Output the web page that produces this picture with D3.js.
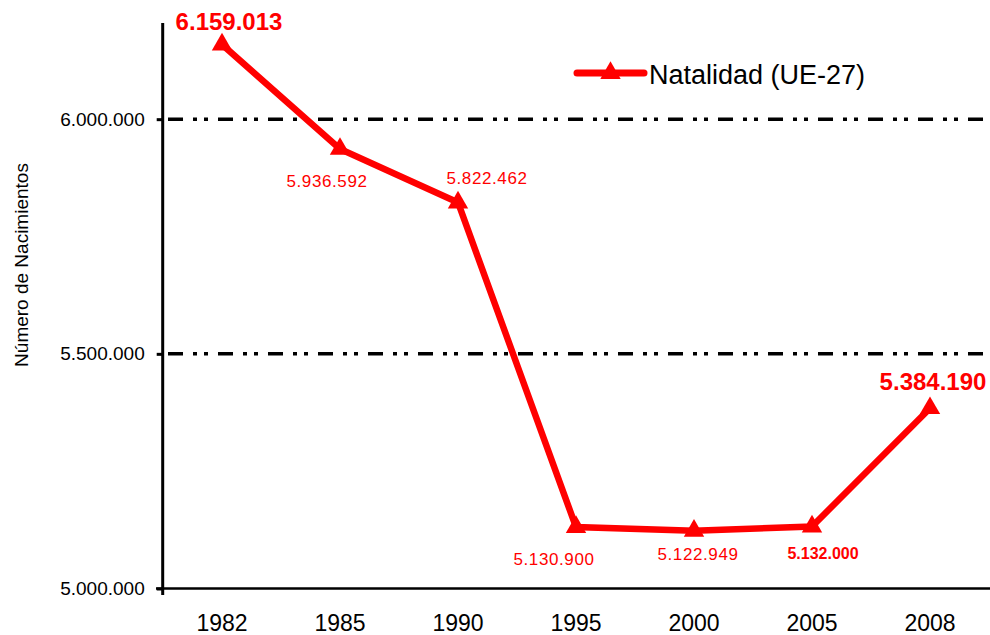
<!DOCTYPE html>
<html lang="es">
<head>
    <meta charset="utf-8">
    <title>Natalidad UE-27</title>
    <script src="https://d3js.org/d3.v7.min.js"></script>
<style>
    body {
        margin: 0;
        background: #ffffff;
        font-family: "Liberation Sans", Arial, sans-serif;
    }
    #chart1 svg { display: block; }
</style>
</head>
<body>
    <div id="chart1"></div>

<script>

    // data
    const years = ["1982", "1985", "1990", "1995", "2000", "2005", "2008"]
    const births = [6159013, 5936592, 5822462, 5130900, 5122949, 5132000, 5384190]
    const yTicks = [5000000, 5500000, 6000000]
    const seriesName = "Natalidad (UE-27)"
    const yTitle = "Número de Nacimientos"

    const natalidadApp = {}

    natalidadApp.fmt = v => d3.format(",")(v).replace(/,/g, ".")

    natalidadApp.buildChart = () => {

        d3.select('#chart1').html('')

        const width = 990, height = 635
        const red = "#ff0000"

        const svg = d3.select("#chart1")
            .append("svg")
            .attr("width", width)
            .attr("height", height)

        svg.append("rect")
            .attr("width", width)
            .attr("height", height)
            .attr("fill", "#fff")

        //////////
        // SCALES //
        //////////

        const x = d3.scaleBand()
            .domain(years)
            .range([163, 989])

        const y = d3.scaleLinear()
            .domain([5000000, 6200000])
            .range([588.5, 25.3])

        const cx = d => x(d) + x.bandwidth() / 2

        //////////
        // GRID //
        //////////

        svg.append("g")
            .selectAll("line")
            .data(yTicks.filter(d => d > 5000000))
            .join("line")
            .attr("x1", 163)
            .attr("x2", width)
            .attr("y1", d => y(d))
            .attr("y2", d => y(d))
            .attr("stroke", "#000")
            .attr("stroke-width", 3.5)
            .attr("stroke-dasharray", "15,10,4,7,4,10")
            .attr("stroke-dashoffset", 45)

        //////////
        // AXIS //
        //////////

        const yAxis = svg.append("g")
            .attr("transform", "translate(162.7,0)")
            .call(d3.axisLeft(y)
                .tickValues(yTicks)
                .tickFormat(natalidadApp.fmt)
                .tickSizeInner(6)
                .tickSizeOuter(0)
                .tickPadding(12))
        yAxis.select(".domain").remove()
        yAxis.selectAll(".tick line").attr("stroke", "#000").attr("stroke-width", 3)
        yAxis.selectAll("text")
            .attr("fill", "#000")
            .style("font-size", "19px")
            .style("font-family", "Liberation Sans, Arial, sans-serif")

        const xAxis = svg.append("g")
            .attr("transform", "translate(0,588.5)")
            .call(d3.axisBottom(x).tickSize(0).tickPadding(26))
        xAxis.select(".domain").remove()
        xAxis.selectAll("text")
            .attr("fill", "#000")
            .style("font-size", "23px")
            .style("font-family", "Liberation Sans, Arial, sans-serif")

        // axis lines
        svg.append("line")
            .attr("x1", 156).attr("x2", width)
            .attr("y1", 588.5).attr("y2", 588.5)
            .attr("stroke", "#000").attr("stroke-width", 2.5)

        svg.append("line")
            .attr("x1", 162.7).attr("x2", 162.7)
            .attr("y1", 23).attr("y2", 595)
            .attr("stroke", "#000").attr("stroke-width", 3)

        svg.append("text")
            .attr("transform", "translate(28,265) rotate(-90)")
            .attr("text-anchor", "middle")
            .style("font-size", "19px")
            .attr("fill", "#000")
            .text(yTitle)

        //////////
        // LINE //
        //////////

        const line = d3.line()
            .x((d, i) => cx(years[i]))
            .y(d => y(d))

        svg.append("path")
            .datum(births)
            .attr("d", line)
            .attr("fill", "none")
            .attr("stroke", red)
            .attr("stroke-width", 6.5)
            .attr("stroke-linejoin", "miter")

        const tri = d3.symbol().type(d3.symbolTriangle).size(180)

        svg.append("g")
            .selectAll("path")
            .data(births)
            .join("path")
            .attr("d", tri)
            .attr("transform", (d, i) => "translate(" + cx(years[i]) + "," + y(d) + ")")
            .attr("fill", red)

        //////////
        // LABELS //
        //////////

        // offset of each label from its point, and its type
        const labelPlace = [
            {dx: 7, dy: -15, kind: "big"},
            {dx: -13, dy: 38, kind: "small"},
            {dx: 29, dy: -18, kind: "small"},
            {dx: -22, dy: 38, kind: "small"},
            {dx: 4, dy: 29, kind: "small"},
            {dx: 11, dy: 32, kind: "bold"},
            {dx: 3, dy: -18, kind: "big"}
        ]

        svg.append("g")
            .selectAll("text")
            .data(births)
            .join("text")
            .attr("x", (d, i) => cx(years[i]) + labelPlace[i].dx)
            .attr("y", (d, i) => y(d) + labelPlace[i].dy)
            .attr("text-anchor", "middle")
            .attr("fill", red)
            .style("font-size", (d, i) => labelPlace[i].kind == "big" ? "24px" : (labelPlace[i].kind == "bold" ? "16px" : "17px"))
            .style("font-weight", (d, i) => labelPlace[i].kind == "small" ? "normal" : "bold")
            .style("letter-spacing", (d, i) => labelPlace[i].kind == "small" ? "0.6px" : "0px")
            .text(natalidadApp.fmt)

        //////////
        // LEGEND //
        //////////

        svg.append("line")
            .attr("x1", 577).attr("x2", 644)
            .attr("y1", 73).attr("y2", 73)
            .attr("stroke", red)
            .attr("stroke-width", 7)
            .attr("stroke-linecap", "round")

        svg.append("path")
            .attr("d", tri)
            .attr("transform", "translate(610.5,73)")
            .attr("fill", red)

        svg.append("text")
            .attr("x", 649)
            .attr("y", 84)
            .style("font-size", "27px")
            .attr("fill", "#000")
            .text(seriesName)
    }

    natalidadApp.buildChart()

</script>
</body>
</html>
